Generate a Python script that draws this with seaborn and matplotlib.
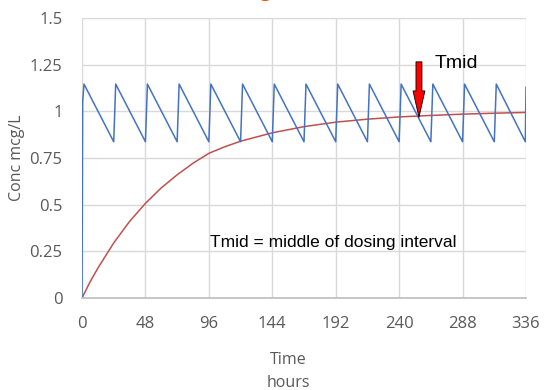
import matplotlib
matplotlib.use("Agg")
import matplotlib.pyplot as plt
import pandas as pd
import seaborn as sns

# Multiple dosing profile (24 h interval)
dose_hours = [0, 0.5, 1.5, 24, 25.5, 48, 49.5, 72, 73.5, 96, 97.5, 120, 121.5,
              144, 145.5, 168, 169.5, 192, 193.5, 216, 217.5, 240, 241.5,
              264, 265.5, 288, 289.5, 312, 313.5, 335.5, 336]
dose_conc = [0, 1.05, 1.146, 0.837, 1.146, 0.837, 1.146, 0.837, 1.146, 0.837,
             1.146, 0.837, 1.146, 0.837, 1.146, 0.837, 1.146, 0.837, 1.146,
             0.837, 1.146, 0.837, 1.146, 0.837, 1.146, 0.837, 1.146, 0.837,
             1.146, 0.837, 1.13]

# Accumulation curve (average concentration)
accum_hours = [0, 6, 12, 24, 36, 48, 60, 72, 84, 96, 108, 120, 144, 168, 192,
               216, 240, 264, 288, 312, 336]
accum_conc = [0, 0.085, 0.16, 0.295, 0.41, 0.507, 0.59, 0.66, 0.722, 0.775,
              0.81, 0.84, 0.885, 0.918, 0.942, 0.958, 0.97, 0.978, 0.985,
              0.99, 0.994]

x_ticks = [0, 48, 96, 144, 192, 240, 288, 336]
y_ticks = [0, 0.25, 0.5, 0.75, 1, 1.25, 1.5]
y_labels = ["0", "0.25", "0.5", "0.75", "1", "1.25", "1.5"]

tmid_hour = 255
tmid_conc = 0.968

sns.set_theme(style="whitegrid")
plt.rcParams["font.family"] = ["Open Sans", "DejaVu Sans"]

fig = plt.figure(figsize=(5.44, 3.9), dpi=100)
ax = fig.add_axes([82 / 544, 1 - 298 / 390, 444 / 544, 280 / 390])
ax.set_facecolor("white")

df_dose = pd.DataFrame({"hours": dose_hours, "conc": dose_conc})
df_accum = pd.DataFrame({"hours": accum_hours, "conc": accum_conc})

sns.lineplot(data=df_accum, x="hours", y="conc", color="#C0504D", lw=1.1, ax=ax)
sns.lineplot(data=df_dose, x="hours", y="conc", color="#4472C4", lw=1.1, ax=ax)

ax.set_xlim(0, 336)
ax.set_ylim(0, 1.5)
ax.set_xticks(x_ticks)
ax.set_yticks(y_ticks)
ax.set_yticklabels(y_labels)
ax.tick_params(axis="both", length=0, labelsize=12, colors="#595959")
ax.tick_params(axis="y", pad=14)
ax.tick_params(axis="x", pad=13)
ax.grid(True, color="#D9D9D9", lw=1)
for side, sp in ax.spines.items():
    sp.set_visible(side == "bottom")
ax.spines["bottom"].set_color("#BFBFBF")
ax.set_xlabel("")
ax.set_ylabel("Conc mcg/L", fontsize=11.5, color="#595959")
ax.yaxis.set_label_coords(-0.128, 0.5)

fig.text(288 / 544, 1 - 360 / 390, "Time", ha="center", va="center",
         fontsize=11.5, color="#595959")
fig.text(288 / 544, 1 - 383 / 390, "hours", ha="center", va="center",
         fontsize=11.5, color="#595959")

ax.annotate("", xy=(tmid_hour, tmid_conc), xytext=(tmid_hour, 1.265),
            arrowprops=dict(facecolor="#FF0000", edgecolor="black", lw=0.6,
                            width=4.3, headwidth=8.5, headlength=19, shrink=0))
ax.text(267, 1.255, "Tmid", ha="left", va="center", fontsize=14,
        family=["Liberation Sans", "DejaVu Sans"], color="black")
ax.text(97, 0.30, "Tmid = middle of dosing interval", ha="left", va="center",
        fontsize=12.5, family=["Liberation Sans", "DejaVu Sans"], color="black")

# title sits above the visible area; only the descender shows
fig.text(265 / 544, 1 + 6 / 390, "g", ha="center", va="baseline",
         fontsize=22, color="#FF4500", family=["Liberation Sans", "DejaVu Sans"])

fig.savefig("out.png", dpi=100, facecolor="white")
